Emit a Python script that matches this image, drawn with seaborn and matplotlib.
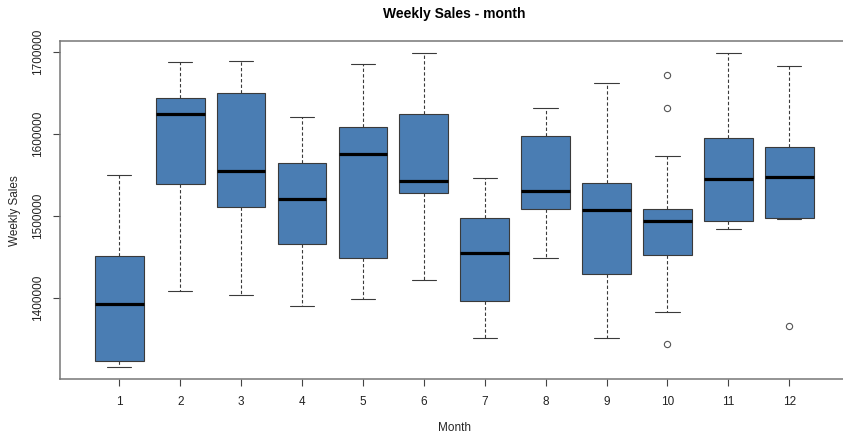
import numpy as np
import pandas as pd
import matplotlib
matplotlib.use('Agg')
import matplotlib.pyplot as plt
import seaborn as sns

# 월별 주간 매출 박스플롯
months = ['1', '2', '3', '4', '5', '6', '7', '8', '9', '10', '11', '12']
whisker_lo = [1316500, 1409100, 1404300, 1390900, 1399400, 1422100,
              1351700, 1449200, 1351300, 1383600, 1483600, 1496500]
q1 = [1323000, 1539000, 1510700, 1465800, 1448800, 1527700,
      1396600, 1508300, 1429800, 1452400, 1494100, 1497000]
median = [1392600, 1624000, 1554400, 1521200, 1575400, 1542200,
          1454900, 1530500, 1507000, 1493300, 1545500, 1547900]
q3 = [1451600, 1643400, 1649000, 1564500, 1607800, 1624300,
      1497700, 1597700, 1539800, 1507900, 1594800, 1584300]
whisker_hi = [1550400, 1687000, 1687900, 1620300, 1685000, 1697600,
              1545900, 1631200, 1662000, 1573000, 1697600, 1682200]

# 이상치
outlier_month = ['10', '10', '10', '12']
outlier_value = [1670900, 1630800, 1344800, 1366600]

# 5개 값으로 long-form 만들기 (whis=(0,100) 이면 그대로 박스가 됨)
rows = []
for i, m in enumerate(months):
    for v in (whisker_lo[i], q1[i], median[i], q3[i], whisker_hi[i]):
        rows.append({'Month': m, 'Weekly_Sales': v})
df = pd.DataFrame(rows)
out = pd.DataFrame({'Month': outlier_month, 'Weekly_Sales': outlier_value})

sns.set_style('ticks')
plt.rcParams['font.family'] = ['Liberation Sans', 'DejaVu Sans']

fig = plt.figure(figsize=(8.43, 4.36), dpi=100)
ax = fig.add_axes([0.0707, 0.130, 0.9364, 0.776])

sns.boxplot(data=df, x='Month', y='Weekly_Sales', order=months, ax=ax,
            whis=(0, 100), width=0.8, color='#4A7DB3', saturation=1,
            linecolor='#3a3a3a', linewidth=0.8, showfliers=False,
            medianprops={'color': 'black', 'linewidth': 2.3},
            whiskerprops={'linestyle': (0, (3, 2))})

sns.stripplot(data=out, x='Month', y='Weekly_Sales', order=months, ax=ax,
              jitter=False, marker='o', size=4.5, color='white',
              edgecolor='#555555', linewidth=0.8)

ax.set_xlim(-0.98, 11.98)
ax.set_ylim(1301300, 1712800)
ax.set_yticks([1400000, 1500000, 1600000, 1700000])
ax.set_yticklabels(['1400000', '1500000', '1600000', '1700000'],
                   rotation=90, va='center')
ax.tick_params(labelsize=8.5, length=5, color='#444444', labelcolor='#222222')
ax.tick_params(axis='y', pad=6)
ax.tick_params(axis='x', pad=7)

for s in ax.spines.values():
    s.set_color('#777777')
    s.set_linewidth(1.1)

ax.set_xlabel('Month', fontsize=8.5, labelpad=10)
ax.set_ylabel('Weekly Sales', fontsize=8.5, labelpad=8)
fig.text(0.539, 0.968, 'Weekly Sales - month', ha='center', va='center',
         fontsize=10, fontweight='bold', color='black')

plt.savefig('out.png', dpi=100)
